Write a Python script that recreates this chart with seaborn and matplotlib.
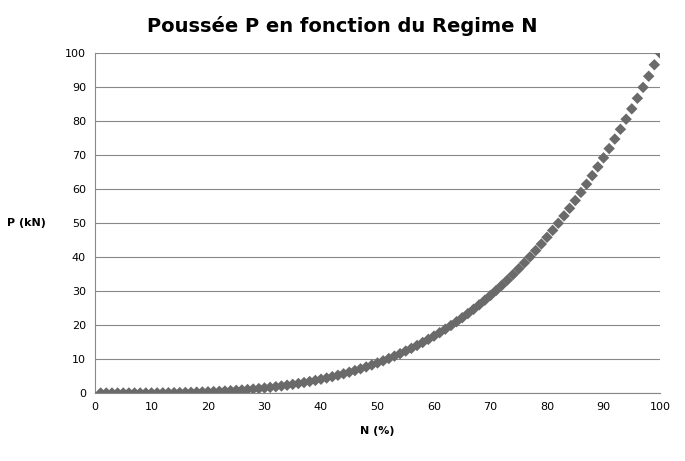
import matplotlib
matplotlib.use("Agg")
import matplotlib.pyplot as plt
import seaborn as sns
import pandas as pd

N_pct = list(range(1, 101))
P_kN = [0.00, 0.00, 0.00, 0.00, 0.00, 0.01, 0.01, 0.01, 0.02, 0.03,
        0.04, 0.06, 0.08, 0.10, 0.13, 0.16, 0.20, 0.25, 0.30, 0.36,
        0.42, 0.50, 0.58, 0.68, 0.78, 0.90, 1.02, 1.16, 1.31, 1.48,
        1.66, 1.85, 2.06, 2.29, 2.54, 2.80, 3.08, 3.38, 3.70, 4.05,
        4.41, 4.80, 5.21, 5.65, 6.11, 6.60, 7.12, 7.66, 8.24, 8.84,
        9.47, 10.14, 10.84, 11.57, 12.34, 13.14, 13.98, 14.86, 15.78, 16.73,
        17.73, 18.77, 19.85, 20.97, 22.14, 23.36, 24.62, 25.93, 27.29, 28.70,
        30.16, 31.67, 33.24, 34.86, 36.54, 38.27, 40.06, 41.91, 43.82, 45.80,
        47.83, 49.93, 52.09, 54.32, 56.62, 58.99, 61.42, 63.93, 66.51, 69.16,
        71.89, 74.69, 77.57, 80.53, 83.57, 86.69, 89.89, 93.17, 96.54, 100.00]
x_ticks = list(range(0, 101, 10))
y_ticks = list(range(0, 101, 10))

df = pd.DataFrame({"N": N_pct, "P": P_kN})
sns.set_style("white")
plt.rcParams['font.family'] = ['DejaVu Sans']

fig = plt.figure(figsize=(6.85, 4.61), dpi=100)
ax = fig.add_axes([95/685, 68/461, 565/685, 340/461])
sns.scatterplot(data=df, x="N", y="P", marker="D", s=34, color="#6a6a6a",
                edgecolor="none", ax=ax, zorder=3, legend=False)
ax.set_xlim(0, 100)
ax.set_ylim(0, 100)
ax.set_xticks(x_ticks)
ax.set_yticks(y_ticks)
ax.tick_params(labelsize=8, length=3, color="#888888", labelcolor="black")
ax.yaxis.grid(True, color="#888888", linewidth=0.8)
ax.xaxis.grid(False)
for s in ["top", "right"]:
    ax.spines[s].set_visible(False)
for s in ["left", "bottom"]:
    ax.spines[s].set_color("#888888")
ax.set_xlabel("N (%)", fontsize=8, fontweight="bold", labelpad=10, color="black")
ax.set_ylabel("P (kN)", fontsize=8, fontweight="bold", rotation=0, labelpad=28,
              va="center", color="black")
fig.suptitle("Poussée P en fonction du Regime N", fontsize=14, fontweight="bold",
             y=0.965, color="black")
fig.savefig("out.png", dpi=100)
